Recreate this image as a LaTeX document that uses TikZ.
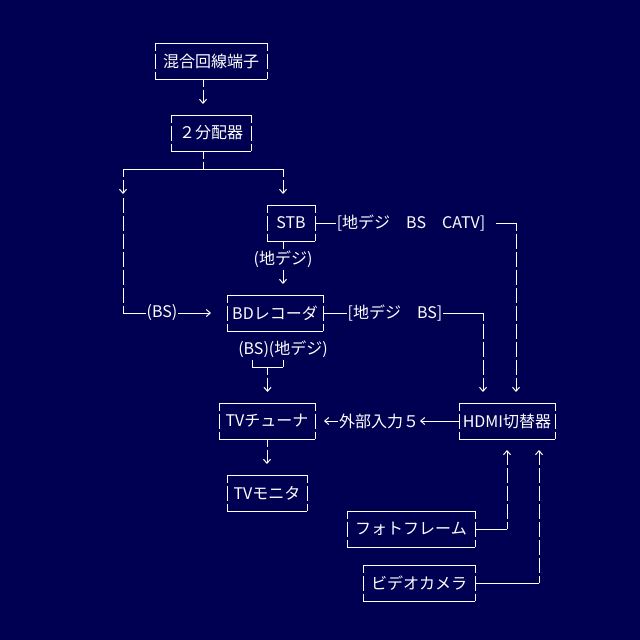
\documentclass[tikz,border=0pt]{standalone}
\usepackage{fontspec}
\newfontfamily\jp{Noto Sans CJK JP}
\usetikzlibrary{arrows.meta}
\definecolor{bg}{RGB}{0,0,82}
\begin{document}
\begin{tikzpicture}[x=1pt,y=-1pt,line width=1pt,white,
  every node/.style={text=white,font=\jp\fontsize{16}{18}\selectfont},
  vl/.style={dash pattern=on 15pt off 3pt,dash phase=7.5pt},
  vlb/.style={dash pattern=on 15pt off 3pt,dash phase=16.5pt},
  arr/.style={-{Straight Barb[length=4pt,width=7pt]}},
  box/.style={inner sep=0pt,outer sep=0pt,minimum height=36pt,append after command={
    (\tikzlastnode.north west) edge[solid] (\tikzlastnode.north east)
    (\tikzlastnode.south west) edge[solid] (\tikzlastnode.south east)
    (\tikzlastnode.north west) edge[vl] (\tikzlastnode.south west)
    (\tikzlastnode.north east) edge[vl] (\tikzlastnode.south east)}},
  lbl/.style={inner sep=1pt,outer sep=0pt,minimum height=18pt}]
\fill[bg,use as bounding box] (0,0) rectangle (640,640);
% boxes
\node[box,minimum width=112pt] (mix) at (211,61) {混合回線端子};
\node[box,minimum width=80pt] (split) at (211,133) {２分配器};
\node[box,minimum width=48pt] (stb) at (291,223) {STB};
\node[box,minimum width=96pt] (bd) at (275,313) {BDレコーダ};
\node[box,minimum width=96pt] (tuner) at (267,421) {TVチューナ};
\node[box,minimum width=96pt] (hdmi) at (507,421) {HDMI切替器};
\node[box,minimum width=80pt] (mon) at (267,493) {TVモニタ};
\node[box,minimum width=128pt] (photo) at (411,529) {フォトフレーム};
\node[box,minimum width=112pt] (cam) at (419,583) {ビデオカメラ};
% labels
\node[lbl] (bsl) at (162,313) {(BS)};
\node[lbl] (sdl) at (283,259) {(地デジ)};
\node[lbl] (l1) at (411,223) {[地デジ　BS　CATV]};
\node[lbl] (l2) at (395,313) {[地デジ　BS]};
\node[lbl] (l3) at (283,349) {(BS)(地デジ)};
\node[lbl] (ext) at (379,421) {外部入力５};
% coordinates
\coordinate (t1) at (203,104);
\coordinate (br) at (203,169);
\coordinate (bl) at (123,169);
\coordinate (brr) at (283,169);
\coordinate (t2) at (123,194);
\coordinate (t3) at (283,194);
\coordinate (t2b) at (123,196);
\coordinate (lc) at (123,313);
\coordinate (t4) at (211,313);
\coordinate (t5) at (283,284);
\coordinate (c1) at (516,223);
\coordinate (t6) at (516,392);
\coordinate (c2) at (483,313);
\coordinate (t7) at (483,392);
\coordinate (k1) at (252,367);
\coordinate (k2) at (283,367);
\coordinate (k3) at (267.5,367);
\coordinate (t8) at (267.5,392);
\coordinate (t9) at (324,421);
\coordinate (t10) at (267,464);
\coordinate (c3) at (507,529);
\coordinate (t11) at (507,450);
\coordinate (c4) at (539,583);
\coordinate (t12) at (539,450);
% connectors
\draw[vl,arr] (mix.south -| t1) -- (t1);
\draw[vl] (split.south -| br) -- (br);
\draw (bl) -- (brr);
\draw[vl,arr] (bl) -- (t2);
\draw[vl,arr] (brr) -- (t3);
\draw[vlb] (t2b) -- (lc);
\draw (lc) -- (bsl.west);
\draw[arr] (bsl.east) -- (t4);
\draw[vl] (stb.south -| sdl) -- (sdl.north);
\draw[vlb,arr] (sdl.south) -- (t5);
\draw (stb.east) -- (l1.west);
\draw ([xshift=10pt]l1.east) -- (c1);
\draw[vl,arr] (c1) -- (t6);
\draw (bd.east) -- (l2.west);
\draw (l2.east) -- (c2);
\draw[vl,arr] (c2) -- (t7);
\draw[vlb] (l3.south -| k1) -- (k1);
\draw[vlb] (l3.south -| k2) -- (k2);
\draw (k1) -- (k2);
\draw[vl,arr] (k3) -- (t8);
\draw[arr] (hdmi.west) -- (ext.east);
\draw[arr] (ext.west) -- (t9);
\draw[vl,arr] (tuner.south) -- (t10);
\draw (photo.east) -- (c3);
\draw[vl,arr] (c3) -- (t11);
\draw (cam.east) -- (c4);
\draw[vl,arr] (c4) -- (t12);
\end{tikzpicture}
\end{document}
